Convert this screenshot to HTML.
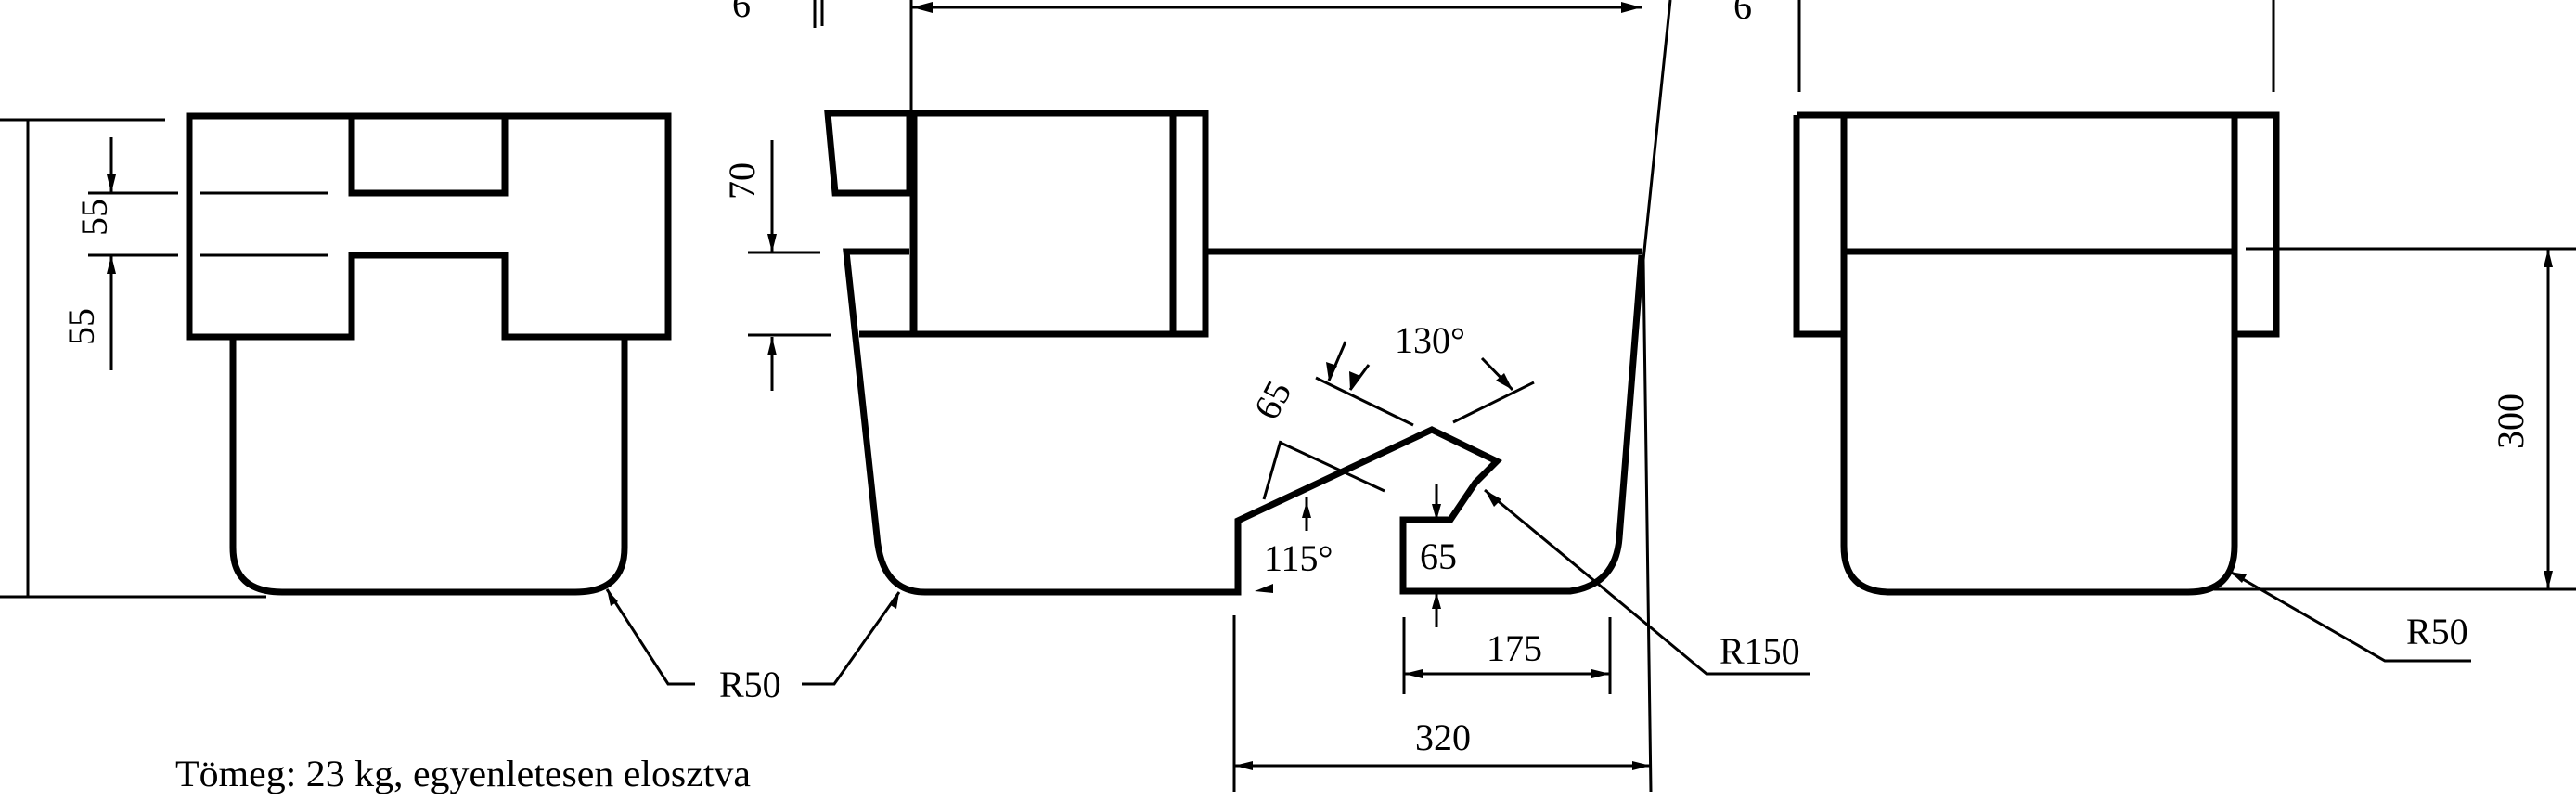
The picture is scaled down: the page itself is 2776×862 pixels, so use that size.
<!DOCTYPE html>
<html><head><meta charset="utf-8"><style>
html,body{margin:0;padding:0;background:#fff;}
svg{display:block;}
text{font-family:"Liberation Serif",serif;fill:#000;}
</style></head><body>
<svg width="2776" height="862" viewBox="0 0 2776 862" xmlns="http://www.w3.org/2000/svg">
<g fill="none" stroke="#000" stroke-width="7" stroke-linejoin="miter">
<!-- LEFT VIEW -->
<path d="M204,125 H720 V363 H544 V275 H379 V363 H204 Z"/>
<path d="M379,125 V208 H544 V125"/>
<path d="M251,363 V590 Q251,638 304,638 H620 Q673,638 673,590 V363"/>
<!-- MIDDLE VIEW -->
<path d="M892,122 H980 V208 H900 Z" />
<path d="M980,122 H1299 V360 H926"/>
<path d="M985,122 V360 M1264,122 V360"/>
<path d="M980,271 H912 L945,578 Q950,638 997,638 H1334 V561 L1543,463 L1613,497 L1590,520 L1563,560 H1512 V637 H1692 Q1741,630 1745,580 L1769,275"/>
<path d="M1302,271 H1769"/>
<!-- RIGHT VIEW -->
<path d="M1936,124 H2453 V360 H2411 M1936,124 V360 H1984"/>
<path d="M1987,124 V588 Q1987,638 2037,638 H2358 Q2408,638 2408,588 V124"/>
<path d="M1989,271 H2406"/>
</g>
<g fill="none" stroke="#000" stroke-width="3">
<!-- left view dims -->
<path d="M30,129 V643 M0,129 H178 M0,643 H287"/>
<path d="M95,208 H192 M215,208 H353 M95,275 H192 M215,275 H353"/>
<path d="M120,148 V208 M120,275 V399"/>
<path d="M654,635 L720,737 H749"/>
<path d="M832,151 V272 M832,363 V421 M806,272 H884 M806,361 H895"/>
<path d="M878,0 V30 M886,0 V28"/>
<!-- middle dims -->
<path d="M982,0 V363 M983,8 H1769"/>
<path d="M1800,0 L1771,280 L1779,853"/>
<path d="M1418,407 L1523,458 M1566,455 L1653,412"/>
<path d="M1380,477 L1492,529"/>
<path d="M1513,665 V748 M1735,665 V748 M1513,726 H1735"/>
<path d="M1330,663 V853 M1330,825 H1779"/>
<path d="M1600,528 L1839,726 H1950"/>
<path d="M969,638 L899,737 H864"/>
<path d="M1548,522 V561 M1548,676 V638"/>
<path d="M1408,536 V572 M1380,475 L1362,538"/>
<path d="M1450,368 L1432,410 M1475,393 L1455,420 M1597,386 L1630,420"/>
<!-- right view -->
<path d="M1939,0 V99 M2450,0 V99"/>
<path d="M2420,268 H2776 M2386,635 H2776 M2746,268 V635"/>
<path d="M2403,616 L2570,712 H2663"/>
</g>
<g fill="#000">
<path d="M983,8 l22,-6 v12 z M1769,8 l-22,-6 v12 z"/>
<path d="M1513,726 l20,-5 v10 z M1735,726 l-20,-5 v10 z"/>
<path d="M1330,825 l20,-5 v10 z M1779,825 l-20,-5 v10 z"/>
<path d="M1548,561 l-5,-18 h10 z M1548,638 l-5,18 h10 z"/>
<path d="M1408,540 l-5,18 h10 z"/>
<path d="M1352,637 l20,-8 v10 z"/>
<path d="M120,208 l-5,-20 h10 z M120,275 l-5,20 h10 z"/>
<path d="M832,272 l-5,-20 h10 z M832,363 l-5,20 h10 z"/>
<path d="M2746,268 l-5,20 h10 z M2746,635 l-5,-20 h10 z"/>
<path d="M1432,410 l-3,-20 l12,4 z M1455,420 l-1,-20 l12,5 z M1630,420 l-18,-10 l9,-8 z"/>
<path d="M1600,528 l10,18 l8,-8 z M654,635 l4,18 l8,-5 z M969,638 l-3,18 l-8,-5 z M2403,616 l18,3 l-5,9 z"/>
</g>
<g font-size="40">
<text x="106" y="234" transform="rotate(-90 106 234)" text-anchor="middle" dominant-baseline="middle">55</text>
<text x="92" y="352" transform="rotate(-90 92 352)" text-anchor="middle" dominant-baseline="middle">55</text>
<text x="804" y="195" transform="rotate(-90 804 195)" text-anchor="middle" dominant-baseline="middle">70</text>
<text x="775" y="751">R50</text>
<text x="789" y="18">6</text>
<text x="1868" y="20">6</text>
<text x="1503" y="380">130°</text>
<text x="1375" y="433" transform="rotate(-62 1375 433)" text-anchor="middle" dominant-baseline="middle">65</text>
<text x="1362" y="615">115°</text>
<text x="1530" y="613">65</text>
<text x="1632" y="712" text-anchor="middle">175</text>
<text x="1555" y="808" text-anchor="middle">320</text>
<text x="1853" y="715">R150</text>
<text x="2593" y="694">R50</text>
<text x="2710" y="454" transform="rotate(-90 2710 454)" text-anchor="middle" dominant-baseline="middle">300</text>
<text x="189" y="847" textLength="620" lengthAdjust="spacingAndGlyphs">Tömeg: 23 kg, egyenletesen elosztva</text>
</g>
</svg>
</body></html>
